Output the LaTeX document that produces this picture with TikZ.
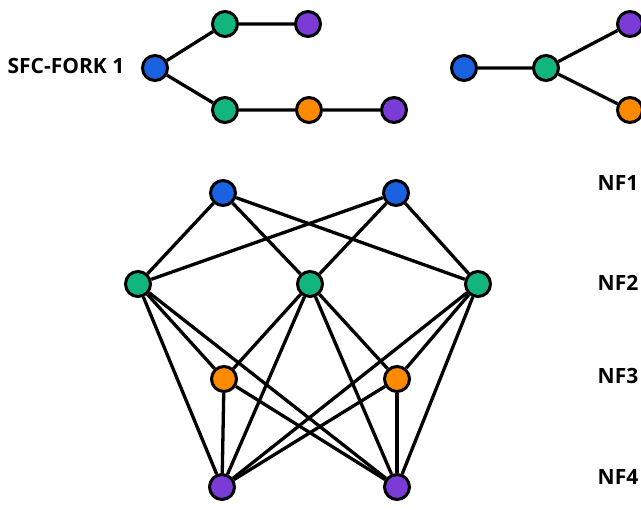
\documentclass[tikz,border=0pt]{standalone}
\usepackage{fontspec}
\setmainfont{Open Sans}
\usetikzlibrary{positioning}

\definecolor{nfblue}{HTML}{1A62E0}
\definecolor{nfgreen}{HTML}{13B57F}
\definecolor{nforange}{HTML}{FF8A00}
\definecolor{nfpurple}{HTML}{7A3BD6}

\pgfdeclarelayer{links}
\pgfsetlayers{links,main}

\begin{document}
\begin{tikzpicture}[x=1pt, y=-1pt, on grid,
    vnf/.style={circle, draw=black, line width=3pt, minimum size=25pt, inner sep=0pt},
    nf1/.style={vnf, fill=nfblue},
    nf2/.style={vnf, fill=nfgreen},
    nf3/.style={vnf, fill=nforange},
    nf4/.style={vnf, fill=nfpurple},
    link/.style={line width=3.3pt},
    lbl/.style={font=\fontsize{21}{25}\selectfont\bfseries}]
  \useasboundingbox (0,0) rectangle (641,510);
  \clip (0,0) rectangle (641,510);

  % sfc fork 1
  \node[lbl] (fork1) at (66,66) {SFC-FORK 1};
  \node[nf1] (f1s) at (155,68) {};
  \node[nf2] (f1g1) [above right=44pt and 70pt of f1s] {};
  \node[nf4] (f1p1) [right=83pt of f1g1] {};
  \node[nf2] (f1g2) [below right=42pt and 70pt of f1s] {};
  \node[nf3] (f1o2) [right=84pt of f1g2] {};
  \node[nf4] (f1p2) [right=85pt of f1o2] {};

  % sfc fork 2 (cut off at the right edge)
  \node[nf1] (f2s) at (464,68) {};
  \node[nf2] (f2g) [right=82pt of f2s] {};
  \node[nf4] (f2p) [above right=44pt and 84pt of f2g] {};
  \node[nf3] (f2o) [below right=42pt and 84pt of f2g] {};

  % NF1
  \node[nf1] (b1) at (223,193) {};
  \node[nf1] (b2) [right=173pt of b1] {};
  % NF2
  \node[nf2] (g1) at (138,284) {};
  \node[nf2] (g2) [right=172pt of g1] {};
  \node[nf2] (g3) [right=168pt of g2] {};
  % NF3
  \node[nf3] (o1) at (224,379) {};
  \node[nf3] (o2) [right=173pt of o1] {};
  % NF4
  \node[nf4] (p1) at (222,487) {};
  \node[nf4] (p2) [right=175pt of p1] {};

  \node[lbl] (nf1lbl) at (618,183) {NF1};
  \node[lbl] (nf2lbl) at (618,283) {NF2};
  \node[lbl] (nf3lbl) at (618,376) {NF3};
  \node[lbl] (nf4lbl) at (618,477) {NF4};

  \begin{pgfonlayer}{links}
    \draw[link] (f1s) -- (f1g1) -- (f1p1);
    \draw[link] (f1s) -- (f1g2) -- (f1o2) -- (f1p2);
    \draw[link] (f2s) -- (f2g) -- (f2p);
    \draw[link] (f2g) -- (f2o);

    \foreach \b in {b1,b2}
      \foreach \g in {g1,g2,g3}
        \draw[link] (\b) -- (\g);
    \draw[link] (g1) -- (o1);
    \draw[link] (g2) -- (o1);
    \draw[link] (g2) -- (o2);
    \draw[link] (g3) -- (o2);
    \foreach \u in {g1,g2,g3,o1,o2}
      \foreach \p in {p1,p2}
        \draw[link] (\u) -- (\p);
  \end{pgfonlayer}
\end{tikzpicture}
\end{document}
